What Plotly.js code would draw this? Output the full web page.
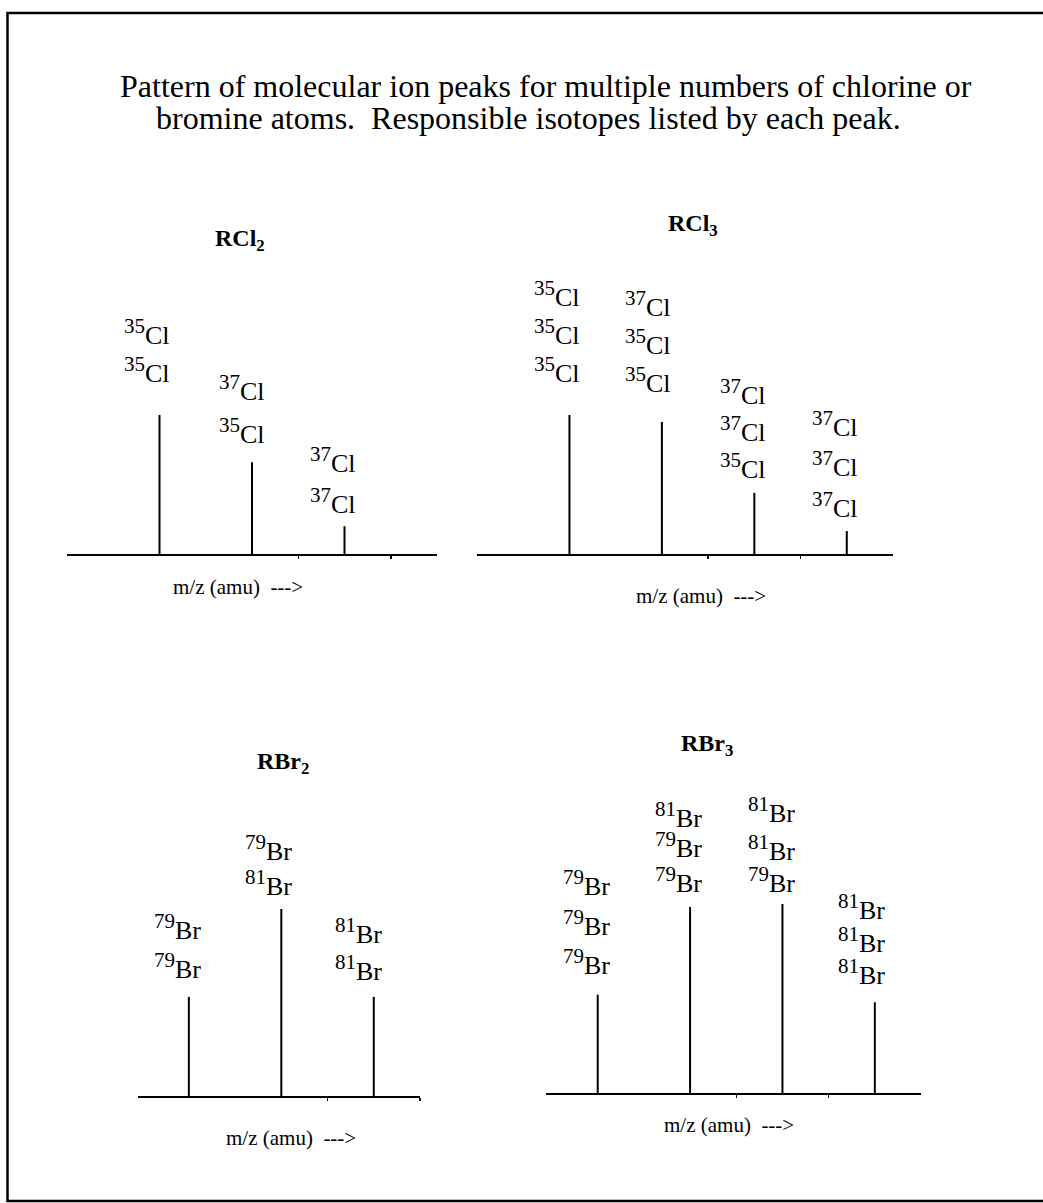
<!DOCTYPE html>
<html>
<head>
<meta charset="utf-8">
<script src="https://cdn.plot.ly/plotly-3.0.1.min.js"></script>
<style>html,body{margin:0;padding:0;background:#fff;}#chart{width:1043px;height:1203px;}</style>
</head>
<body>
<div id="chart"></div>
<script>
// ---------------- DATA ----------------
const mainTitleLines = [
  "Pattern of molecular ion peaks for multiple numbers of chlorine or",
  "bromine atoms.  Responsible isotopes listed by each peak."
];
const axisLabelText = "m/z (amu)  --->";

const rcl2Title = "RCl<sub>2</sub>";
const rcl2Pos = [1, 2, 3];
const rcl2Int = [100, 66, 20];
const rcl2Iso = [["35", "35"], ["37", "35"], ["37", "37"]];
const rcl2Elem = "Cl";

const rcl3Title = "RCl<sub>3</sub>";
const rcl3Pos = [1, 2, 3, 4];
const rcl3Int = [100, 95, 44, 16.5];
const rcl3Iso = [["35", "35", "35"], ["37", "35", "35"], ["37", "37", "35"], ["37", "37", "37"]];
const rcl3Elem = "Cl";

const rbr2Title = "RBr<sub>2</sub>";
const rbr2Pos = [1, 2, 3];
const rbr2Int = [53, 100, 53];
const rbr2Iso = [["79", "79"], ["79", "81"], ["81", "81"]];
const rbr2Elem = "Br";

const rbr3Title = "RBr<sub>3</sub>";
const rbr3Pos = [1, 2, 3, 4];
const rbr3Int = [52, 98.4, 100, 48];
const rbr3Iso = [["79", "79", "79"], ["81", "79", "79"], ["81", "81", "79"], ["81", "81", "81"]];
const rbr3Elem = "Br";

const minorTicks = [2.5, 3.5];

// ---------------- LAYOUT / STYLE ----------------
const W = 1043, H = 1203;
const FONT = "Liberation Serif, Times New Roman, serif";
const px = x => x / W;
const py = y => 1 - y / H;

const labelFont = 26, supFont = 21, axisFont = 21, panelFont = 24, titleFont = 32;

const panels = [
  { title: rcl2Title, pos: rcl2Pos, val: rcl2Int, iso: rcl2Iso, elem: rcl2Elem,
    xPx: [67, 437], range: [0, 4], base: 554, per100: 139,
    titleC: 239.5, titleB: 247, axC: 237.5, axB: 595,
    dx: [-12.5, -10.5, -11.5],
    rise: [[-70, -32], [-61, -18], [-53, -12]] },
  { title: rcl3Title, pos: rcl3Pos, val: rcl3Int, iso: rcl3Iso, elem: rcl3Elem,
    xPx: [477, 893], range: [0, 4.5], base: 554, per100: 139,
    titleC: 692.5, titleB: 232, axC: 701, axB: 604,
    dx: [-12.5, -14, -11, -12],
    rise: [[-108, -70, -32], [-105, -67, -29], [-87, -50, -13], [-94, -54, -13]] },
  { title: rbr2Title, pos: rbr2Pos, val: rbr2Int, iso: rbr2Iso, elem: rbr2Elem,
    xPx: [138, 420], range: [0.45, 3.5], base: 1096, per100: 187,
    titleC: 283, titleB: 770, axC: 290.5, axB: 1146,
    dx: [-11, -13, -15],
    rise: [[-57, -18], [-48, -13], [-53, -16]] },
  { title: rbr3Title, pos: rbr3Pos, val: rbr3Int, iso: rbr3Iso, elem: rbr3Elem,
    xPx: [546, 921], range: [0.44, 4.5], base: 1093, per100: 189,
    titleC: 706.5, titleB: 752, axC: 729, axB: 1133,
    dx: [-11.5, -12, -10.5, -13],
    rise: [[-98, -58, -19], [-79, -49, -14], [-81, -43, -11], [-82, -49, -17]] }
];

const data = [];
const layout = {
  width: W, height: H,
  margin: { l: 0, r: 0, t: 0, b: 0, pad: 0 },
  paper_bgcolor: "#ffffff", plot_bgcolor: "rgba(0,0,0,0)",
  showlegend: false,
  font: { family: FONT, color: "#000" },
  annotations: [],
  shapes: [{
    type: "rect", xref: "paper", yref: "paper",
    x0: px(7.5), x1: px(1060), y0: py(1201), y1: py(13),
    line: { color: "#000", width: 2.5 }, fillcolor: "rgba(0,0,0,0)"
  }]
};

function textAt(text, cx, baseline, size, extraDesc) {
  const d = (extraDesc || 0.216) * size + 1;
  return {
    xref: "paper", yref: "paper", x: px(cx), y: py(baseline + d),
    xanchor: "center", yanchor: "bottom", showarrow: false,
    text: text, font: { family: FONT, size: size, color: "#000" }
  };
}
function textLeft(text, lx, baseline, size) {
  const d = 0.216 * size + 1;
  return {
    xref: "paper", yref: "paper", x: px(lx), y: py(baseline + d),
    xanchor: "left", yanchor: "bottom", showarrow: false,
    text: text, font: { family: FONT, size: size, color: "#000" }
  };
}

// main title
layout.annotations.push(textLeft(mainTitleLines[0], 118, 98, titleFont));
layout.annotations.push(textLeft(mainTitleLines[1], 154, 130, titleFont));

panels.forEach((p, i) => {
  const s = i === 0 ? "" : String(i + 1);
  const xa = "x" + s, ya = "y" + s;
  // stems built from data arrays
  const xs = [], ys = [];
  p.pos.forEach((x, k) => { xs.push(x, x, null); ys.push(0, p.val[k], null); });
  data.push({
    type: "scatter", mode: "lines", x: xs, y: ys, xaxis: xa, yaxis: ya,
    line: { color: "#000", width: 2 }, hoverinfo: "skip", cliponaxis: false
  });
  layout["xaxis" + s] = {
    domain: [px(p.xPx[0]), px(p.xPx[1])], range: p.range, autorange: false,
    anchor: ya, showline: true, linecolor: "#000", linewidth: 2,
    showgrid: false, zeroline: false, ticks: "outside", ticklen: 3,
    tickwidth: 1.5, tickcolor: "#000", tickmode: "array", tickvals: minorTicks,
    showticklabels: false, fixedrange: true
  };
  layout["yaxis" + s] = {
    domain: [py(p.base), py(p.base - p.per100)], range: [0, 100], autorange: false,
    anchor: xa, visible: false, showgrid: false, zeroline: false, fixedrange: true
  };
  // panel title
  layout.annotations.push(textAt("<b>" + p.title + "</b>", p.titleC, p.titleB, panelFont, 0.361));
  // axis label
  layout.annotations.push(textAt(axisLabelText, p.axC, p.axB, axisFont));
  // isotope labels per peak
  p.pos.forEach((x, k) => {
    p.iso[k].forEach((m, j) => {
      const off = p.rise[k][j];
      layout.annotations.push({
        xref: xa, yref: ya, x: x, y: p.val[k],
        xanchor: "center", yanchor: "bottom", showarrow: false,
        xshift: p.dx[k], yshift: -(off + 0.216 * labelFont + 1),
        text: "<sup><span style=\"font-size:" + supFont + "px\">" + m + "</span></sup>" + p.elem,
        font: { family: FONT, size: labelFont, color: "#000" }
      });
    });
  });
});

Plotly.newPlot("chart", data, layout, { staticPlot: true, displayModeBar: false });
</script>
</body>
</html>
